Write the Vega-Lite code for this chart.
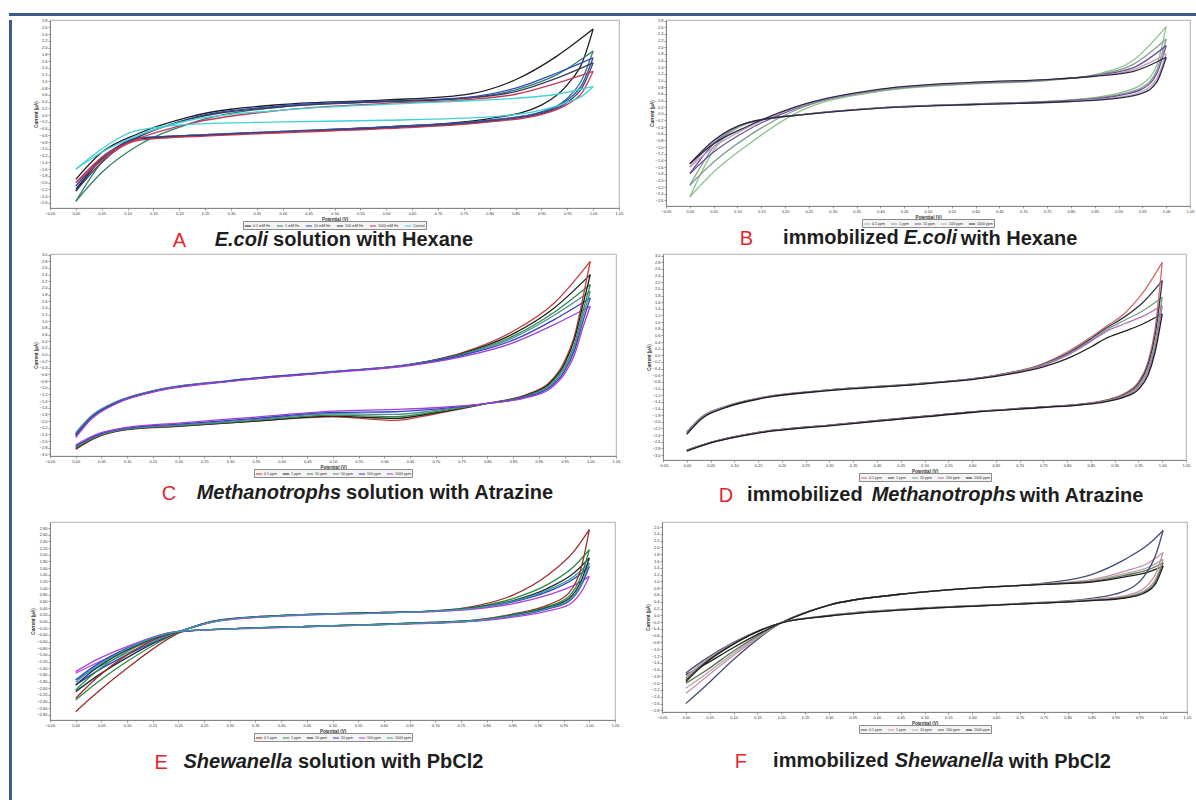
{
"$schema":"https://vega.github.io/schema/vega-lite/v6.json",
"padding":{"left":7,"top":11,"right":0,"bottom":0},
"background":"white",
"datasets":{"cv":[
{"p":"A","s":1,"b":"f","x":0,"y":-1.9},{"p":"A","s":1,"b":"f","x":0.05,"y":-1.1},{"p":"A","s":1,"b":"f","x":0.12,"y":-0.55},{"p":"A","s":1,"b":"f","x":0.22,"y":-0.05},{"p":"A","s":1,"b":"f","x":0.4,"y":0.32},{"p":"A","s":1,"b":"f","x":0.6,"y":0.45},{"p":"A","s":1,"b":"f","x":0.75,"y":0.6},{"p":"A","s":1,"b":"f","x":0.85,"y":1.05},{"p":"A","s":1,"b":"f","x":0.93,"y":1.75},{"p":"A","s":1,"b":"f","x":1,"y":2.55},
{"p":"A","s":1,"b":"r","x":1,"y":2.55},{"p":"A","s":1,"b":"r","x":0.98,"y":1.6},{"p":"A","s":1,"b":"r","x":0.95,"y":0.9},{"p":"A","s":1,"b":"r","x":0.9,"y":0.3},{"p":"A","s":1,"b":"r","x":0.8,"y":-0.1},{"p":"A","s":1,"b":"r","x":0.6,"y":-0.35},{"p":"A","s":1,"b":"r","x":0.4,"y":-0.5},{"p":"A","s":1,"b":"r","x":0.25,"y":-0.6},{"p":"A","s":1,"b":"r","x":0.12,"y":-0.7},{"p":"A","s":1,"b":"r","x":0.05,"y":-1.3},{"p":"A","s":1,"b":"r","x":0,"y":-2.2},
{"p":"A","s":2,"b":"f","x":0,"y":-2.55},{"p":"A","s":2,"b":"f","x":0.05,"y":-1.7},{"p":"A","s":2,"b":"f","x":0.12,"y":-0.9},{"p":"A","s":2,"b":"f","x":0.22,"y":-0.25},{"p":"A","s":2,"b":"f","x":0.4,"y":0.25},{"p":"A","s":2,"b":"f","x":0.6,"y":0.4},{"p":"A","s":2,"b":"f","x":0.75,"y":0.5},{"p":"A","s":2,"b":"f","x":0.85,"y":0.75},{"p":"A","s":2,"b":"f","x":0.93,"y":1.2},{"p":"A","s":2,"b":"f","x":1,"y":1.9},
{"p":"A","s":2,"b":"r","x":1,"y":1.9},{"p":"A","s":2,"b":"r","x":0.98,"y":1.1},{"p":"A","s":2,"b":"r","x":0.95,"y":0.5},{"p":"A","s":2,"b":"r","x":0.9,"y":0.1},{"p":"A","s":2,"b":"r","x":0.8,"y":-0.15},{"p":"A","s":2,"b":"r","x":0.6,"y":-0.35},{"p":"A","s":2,"b":"r","x":0.4,"y":-0.48},{"p":"A","s":2,"b":"r","x":0.25,"y":-0.58},{"p":"A","s":2,"b":"r","x":0.12,"y":-0.68},{"p":"A","s":2,"b":"r","x":0.05,"y":-1.4},{"p":"A","s":2,"b":"r","x":0,"y":-2.55},
{"p":"A","s":3,"b":"f","x":0,"y":-2.1},{"p":"A","s":3,"b":"f","x":0.05,"y":-1.25},{"p":"A","s":3,"b":"f","x":0.12,"y":-0.65},{"p":"A","s":3,"b":"f","x":0.22,"y":-0.1},{"p":"A","s":3,"b":"f","x":0.4,"y":0.28},{"p":"A","s":3,"b":"f","x":0.6,"y":0.42},{"p":"A","s":3,"b":"f","x":0.75,"y":0.52},{"p":"A","s":3,"b":"f","x":0.85,"y":0.8},{"p":"A","s":3,"b":"f","x":0.93,"y":1.25},{"p":"A","s":3,"b":"f","x":1,"y":1.7},
{"p":"A","s":3,"b":"r","x":1,"y":1.7},{"p":"A","s":3,"b":"r","x":0.98,"y":0.95},{"p":"A","s":3,"b":"r","x":0.95,"y":0.45},{"p":"A","s":3,"b":"r","x":0.9,"y":0.08},{"p":"A","s":3,"b":"r","x":0.8,"y":-0.15},{"p":"A","s":3,"b":"r","x":0.6,"y":-0.35},{"p":"A","s":3,"b":"r","x":0.4,"y":-0.48},{"p":"A","s":3,"b":"r","x":0.25,"y":-0.58},{"p":"A","s":3,"b":"r","x":0.12,"y":-0.68},{"p":"A","s":3,"b":"r","x":0.05,"y":-1.3},{"p":"A","s":3,"b":"r","x":0,"y":-2.1},
{"p":"A","s":4,"b":"f","x":0,"y":-2.25},{"p":"A","s":4,"b":"f","x":0.05,"y":-1.3},{"p":"A","s":4,"b":"f","x":0.12,"y":-0.65},{"p":"A","s":4,"b":"f","x":0.22,"y":-0.12},{"p":"A","s":4,"b":"f","x":0.4,"y":0.25},{"p":"A","s":4,"b":"f","x":0.6,"y":0.4},{"p":"A","s":4,"b":"f","x":0.75,"y":0.5},{"p":"A","s":4,"b":"f","x":0.85,"y":0.7},{"p":"A","s":4,"b":"f","x":0.93,"y":1.1},{"p":"A","s":4,"b":"f","x":1,"y":1.55},
{"p":"A","s":4,"b":"r","x":1,"y":1.55},{"p":"A","s":4,"b":"r","x":0.98,"y":0.85},{"p":"A","s":4,"b":"r","x":0.95,"y":0.38},{"p":"A","s":4,"b":"r","x":0.9,"y":0.05},{"p":"A","s":4,"b":"r","x":0.8,"y":-0.18},{"p":"A","s":4,"b":"r","x":0.6,"y":-0.38},{"p":"A","s":4,"b":"r","x":0.4,"y":-0.5},{"p":"A","s":4,"b":"r","x":0.25,"y":-0.6},{"p":"A","s":4,"b":"r","x":0.12,"y":-0.7},{"p":"A","s":4,"b":"r","x":0.05,"y":-1.4},{"p":"A","s":4,"b":"r","x":0,"y":-2.25},
{"p":"A","s":5,"b":"f","x":0,"y":-2.0},{"p":"A","s":5,"b":"f","x":0.05,"y":-1.25},{"p":"A","s":5,"b":"f","x":0.12,"y":-0.7},{"p":"A","s":5,"b":"f","x":0.22,"y":-0.25},{"p":"A","s":5,"b":"f","x":0.4,"y":0.15},{"p":"A","s":5,"b":"f","x":0.6,"y":0.35},{"p":"A","s":5,"b":"f","x":0.75,"y":0.45},{"p":"A","s":5,"b":"f","x":0.85,"y":0.62},{"p":"A","s":5,"b":"f","x":0.93,"y":0.95},{"p":"A","s":5,"b":"f","x":1,"y":1.3},
{"p":"A","s":5,"b":"r","x":1,"y":1.3},{"p":"A","s":5,"b":"r","x":0.98,"y":0.7},{"p":"A","s":5,"b":"r","x":0.95,"y":0.32},{"p":"A","s":5,"b":"r","x":0.9,"y":0.02},{"p":"A","s":5,"b":"r","x":0.8,"y":-0.2},{"p":"A","s":5,"b":"r","x":0.6,"y":-0.4},{"p":"A","s":5,"b":"r","x":0.4,"y":-0.52},{"p":"A","s":5,"b":"r","x":0.25,"y":-0.62},{"p":"A","s":5,"b":"r","x":0.12,"y":-0.75},{"p":"A","s":5,"b":"r","x":0.05,"y":-1.35},{"p":"A","s":5,"b":"r","x":0,"y":-2.0},
{"p":"A","s":6,"b":"f","x":0,"y":-1.6},{"p":"A","s":6,"b":"f","x":0.05,"y":-1.1},{"p":"A","s":6,"b":"f","x":0.12,"y":-0.6},{"p":"A","s":6,"b":"f","x":0.22,"y":-0.15},{"p":"A","s":6,"b":"f","x":0.4,"y":0.15},{"p":"A","s":6,"b":"f","x":0.6,"y":0.32},{"p":"A","s":6,"b":"f","x":0.75,"y":0.42},{"p":"A","s":6,"b":"f","x":0.85,"y":0.5},{"p":"A","s":6,"b":"f","x":0.93,"y":0.62},{"p":"A","s":6,"b":"f","x":1,"y":0.85},
{"p":"A","s":6,"b":"r","x":1,"y":0.85},{"p":"A","s":6,"b":"r","x":0.98,"y":0.58},{"p":"A","s":6,"b":"r","x":0.95,"y":0.38},{"p":"A","s":6,"b":"r","x":0.9,"y":0.15},{"p":"A","s":6,"b":"r","x":0.8,"y":-0.05},{"p":"A","s":6,"b":"r","x":0.6,"y":-0.15},{"p":"A","s":6,"b":"r","x":0.4,"y":-0.2},{"p":"A","s":6,"b":"r","x":0.25,"y":-0.25},{"p":"A","s":6,"b":"r","x":0.12,"y":-0.45},{"p":"A","s":6,"b":"r","x":0.05,"y":-1.0},{"p":"A","s":6,"b":"r","x":0,"y":-1.6},

{"p":"B","s":1,"b":"f","x":0,"y":-2.5},{"p":"B","s":1,"b":"f","x":0.05,"y":-1.75},{"p":"B","s":1,"b":"f","x":0.12,"y":-0.95},{"p":"B","s":1,"b":"f","x":0.22,"y":0},{"p":"B","s":1,"b":"f","x":0.4,"y":0.68},{"p":"B","s":1,"b":"f","x":0.6,"y":0.9},{"p":"B","s":1,"b":"f","x":0.75,"y":1.0},{"p":"B","s":1,"b":"f","x":0.85,"y":1.18},{"p":"B","s":1,"b":"f","x":0.93,"y":1.6},{"p":"B","s":1,"b":"f","x":1,"y":2.62},
{"p":"B","s":1,"b":"r","x":1,"y":2.62},{"p":"B","s":1,"b":"r","x":0.98,"y":1.45},{"p":"B","s":1,"b":"r","x":0.95,"y":0.9},{"p":"B","s":1,"b":"r","x":0.9,"y":0.62},{"p":"B","s":1,"b":"r","x":0.8,"y":0.42},{"p":"B","s":1,"b":"r","x":0.6,"y":0.3},{"p":"B","s":1,"b":"r","x":0.4,"y":0.18},{"p":"B","s":1,"b":"r","x":0.25,"y":0},{"p":"B","s":1,"b":"r","x":0.12,"y":-0.3},{"p":"B","s":1,"b":"r","x":0.05,"y":-1.1},{"p":"B","s":1,"b":"r","x":0,"y":-2.5},
{"p":"B","s":2,"b":"f","x":0,"y":-2.15},{"p":"B","s":2,"b":"f","x":0.05,"y":-1.45},{"p":"B","s":2,"b":"f","x":0.12,"y":-0.7},{"p":"B","s":2,"b":"f","x":0.22,"y":0.1},{"p":"B","s":2,"b":"f","x":0.4,"y":0.7},{"p":"B","s":2,"b":"f","x":0.6,"y":0.92},{"p":"B","s":2,"b":"f","x":0.75,"y":1.01},{"p":"B","s":2,"b":"f","x":0.85,"y":1.16},{"p":"B","s":2,"b":"f","x":0.93,"y":1.48},{"p":"B","s":2,"b":"f","x":1,"y":2.25},
{"p":"B","s":2,"b":"r","x":1,"y":2.25},{"p":"B","s":2,"b":"r","x":0.98,"y":1.3},{"p":"B","s":2,"b":"r","x":0.95,"y":0.8},{"p":"B","s":2,"b":"r","x":0.9,"y":0.58},{"p":"B","s":2,"b":"r","x":0.8,"y":0.41},{"p":"B","s":2,"b":"r","x":0.6,"y":0.3},{"p":"B","s":2,"b":"r","x":0.4,"y":0.18},{"p":"B","s":2,"b":"r","x":0.25,"y":0},{"p":"B","s":2,"b":"r","x":0.12,"y":-0.28},{"p":"B","s":2,"b":"r","x":0.05,"y":-1.0},{"p":"B","s":2,"b":"r","x":0,"y":-2.15},
{"p":"B","s":3,"b":"f","x":0,"y":-1.8},{"p":"B","s":3,"b":"f","x":0.05,"y":-1.15},{"p":"B","s":3,"b":"f","x":0.12,"y":-0.5},{"p":"B","s":3,"b":"f","x":0.22,"y":0.15},{"p":"B","s":3,"b":"f","x":0.4,"y":0.72},{"p":"B","s":3,"b":"f","x":0.6,"y":0.93},{"p":"B","s":3,"b":"f","x":0.75,"y":1.02},{"p":"B","s":3,"b":"f","x":0.85,"y":1.15},{"p":"B","s":3,"b":"f","x":0.93,"y":1.38},{"p":"B","s":3,"b":"f","x":1,"y":2.05},
{"p":"B","s":3,"b":"r","x":1,"y":2.05},{"p":"B","s":3,"b":"r","x":0.98,"y":1.2},{"p":"B","s":3,"b":"r","x":0.95,"y":0.75},{"p":"B","s":3,"b":"r","x":0.9,"y":0.55},{"p":"B","s":3,"b":"r","x":0.8,"y":0.4},{"p":"B","s":3,"b":"r","x":0.6,"y":0.29},{"p":"B","s":3,"b":"r","x":0.4,"y":0.18},{"p":"B","s":3,"b":"r","x":0.25,"y":0},{"p":"B","s":3,"b":"r","x":0.12,"y":-0.27},{"p":"B","s":3,"b":"r","x":0.05,"y":-0.9},{"p":"B","s":3,"b":"r","x":0,"y":-1.8},
{"p":"B","s":4,"b":"f","x":0,"y":-1.6},{"p":"B","s":4,"b":"f","x":0.05,"y":-1.0},{"p":"B","s":4,"b":"f","x":0.12,"y":-0.42},{"p":"B","s":4,"b":"f","x":0.22,"y":0.18},{"p":"B","s":4,"b":"f","x":0.4,"y":0.73},{"p":"B","s":4,"b":"f","x":0.6,"y":0.94},{"p":"B","s":4,"b":"f","x":0.75,"y":1.02},{"p":"B","s":4,"b":"f","x":0.85,"y":1.14},{"p":"B","s":4,"b":"f","x":0.93,"y":1.32},{"p":"B","s":4,"b":"f","x":1,"y":1.8},
{"p":"B","s":4,"b":"r","x":1,"y":1.8},{"p":"B","s":4,"b":"r","x":0.98,"y":1.05},{"p":"B","s":4,"b":"r","x":0.95,"y":0.68},{"p":"B","s":4,"b":"r","x":0.9,"y":0.5},{"p":"B","s":4,"b":"r","x":0.8,"y":0.38},{"p":"B","s":4,"b":"r","x":0.6,"y":0.28},{"p":"B","s":4,"b":"r","x":0.4,"y":0.17},{"p":"B","s":4,"b":"r","x":0.25,"y":-0.01},{"p":"B","s":4,"b":"r","x":0.12,"y":-0.27},{"p":"B","s":4,"b":"r","x":0.05,"y":-0.85},{"p":"B","s":4,"b":"r","x":0,"y":-1.6},
{"p":"B","s":5,"b":"f","x":0,"y":-1.5},{"p":"B","s":5,"b":"f","x":0.05,"y":-0.9},{"p":"B","s":5,"b":"f","x":0.12,"y":-0.38},{"p":"B","s":5,"b":"f","x":0.22,"y":0.2},{"p":"B","s":5,"b":"f","x":0.4,"y":0.74},{"p":"B","s":5,"b":"f","x":0.6,"y":0.95},{"p":"B","s":5,"b":"f","x":0.75,"y":1.03},{"p":"B","s":5,"b":"f","x":0.85,"y":1.13},{"p":"B","s":5,"b":"f","x":0.93,"y":1.27},{"p":"B","s":5,"b":"f","x":1,"y":1.7},
{"p":"B","s":5,"b":"r","x":1,"y":1.7},{"p":"B","s":5,"b":"r","x":0.98,"y":0.95},{"p":"B","s":5,"b":"r","x":0.95,"y":0.62},{"p":"B","s":5,"b":"r","x":0.9,"y":0.47},{"p":"B","s":5,"b":"r","x":0.8,"y":0.37},{"p":"B","s":5,"b":"r","x":0.6,"y":0.28},{"p":"B","s":5,"b":"r","x":0.4,"y":0.17},{"p":"B","s":5,"b":"r","x":0.25,"y":-0.01},{"p":"B","s":5,"b":"r","x":0.12,"y":-0.27},{"p":"B","s":5,"b":"r","x":0.05,"y":-0.8},{"p":"B","s":5,"b":"r","x":0,"y":-1.5},

{"p":"C","s":1,"b":"f","x":0,"y":-2.45},{"p":"C","s":1,"b":"f","x":0.03,"y":-1.9},{"p":"C","s":1,"b":"f","x":0.08,"y":-1.45},{"p":"C","s":1,"b":"f","x":0.15,"y":-1.12},{"p":"C","s":1,"b":"f","x":0.3,"y":-0.8},{"p":"C","s":1,"b":"f","x":0.5,"y":-0.53},{"p":"C","s":1,"b":"f","x":0.65,"y":-0.3},{"p":"C","s":1,"b":"f","x":0.75,"y":0.05},{"p":"C","s":1,"b":"f","x":0.85,"y":0.7},{"p":"C","s":1,"b":"f","x":0.93,"y":1.55},{"p":"C","s":1,"b":"f","x":1,"y":2.8},
{"p":"C","s":2,"b":"f","x":0,"y":-2.4},{"p":"C","s":2,"b":"f","x":0.03,"y":-1.88},{"p":"C","s":2,"b":"f","x":0.08,"y":-1.43},{"p":"C","s":2,"b":"f","x":0.15,"y":-1.1},{"p":"C","s":2,"b":"f","x":0.3,"y":-0.79},{"p":"C","s":2,"b":"f","x":0.5,"y":-0.52},{"p":"C","s":2,"b":"f","x":0.65,"y":-0.3},{"p":"C","s":2,"b":"f","x":0.75,"y":0.03},{"p":"C","s":2,"b":"f","x":0.85,"y":0.62},{"p":"C","s":2,"b":"f","x":0.93,"y":1.4},{"p":"C","s":2,"b":"f","x":1,"y":2.4},
{"p":"C","s":3,"b":"f","x":0,"y":-2.38},{"p":"C","s":3,"b":"f","x":0.03,"y":-1.87},{"p":"C","s":3,"b":"f","x":0.08,"y":-1.42},{"p":"C","s":3,"b":"f","x":0.15,"y":-1.09},{"p":"C","s":3,"b":"f","x":0.3,"y":-0.79},{"p":"C","s":3,"b":"f","x":0.5,"y":-0.52},{"p":"C","s":3,"b":"f","x":0.65,"y":-0.3},{"p":"C","s":3,"b":"f","x":0.75,"y":0.01},{"p":"C","s":3,"b":"f","x":0.85,"y":0.55},{"p":"C","s":3,"b":"f","x":0.93,"y":1.27},{"p":"C","s":3,"b":"f","x":1,"y":2.1},
{"p":"C","s":4,"b":"f","x":0,"y":-2.35},{"p":"C","s":4,"b":"f","x":0.03,"y":-1.85},{"p":"C","s":4,"b":"f","x":0.08,"y":-1.41},{"p":"C","s":4,"b":"f","x":0.15,"y":-1.09},{"p":"C","s":4,"b":"f","x":0.3,"y":-0.78},{"p":"C","s":4,"b":"f","x":0.5,"y":-0.51},{"p":"C","s":4,"b":"f","x":0.65,"y":-0.3},{"p":"C","s":4,"b":"f","x":0.75,"y":-0.01},{"p":"C","s":4,"b":"f","x":0.85,"y":0.5},{"p":"C","s":4,"b":"f","x":0.93,"y":1.18},{"p":"C","s":4,"b":"f","x":1,"y":1.9},
{"p":"C","s":5,"b":"f","x":0,"y":-2.42},{"p":"C","s":5,"b":"f","x":0.03,"y":-1.9},{"p":"C","s":5,"b":"f","x":0.08,"y":-1.44},{"p":"C","s":5,"b":"f","x":0.15,"y":-1.11},{"p":"C","s":5,"b":"f","x":0.3,"y":-0.79},{"p":"C","s":5,"b":"f","x":0.5,"y":-0.52},{"p":"C","s":5,"b":"f","x":0.65,"y":-0.31},{"p":"C","s":5,"b":"f","x":0.75,"y":-0.03},{"p":"C","s":5,"b":"f","x":0.85,"y":0.43},{"p":"C","s":5,"b":"f","x":0.93,"y":1.05},{"p":"C","s":5,"b":"f","x":1,"y":1.7},
{"p":"C","s":6,"b":"f","x":0,"y":-2.5},{"p":"C","s":6,"b":"f","x":0.03,"y":-1.95},{"p":"C","s":6,"b":"f","x":0.08,"y":-1.47},{"p":"C","s":6,"b":"f","x":0.15,"y":-1.13},{"p":"C","s":6,"b":"f","x":0.3,"y":-0.81},{"p":"C","s":6,"b":"f","x":0.5,"y":-0.54},{"p":"C","s":6,"b":"f","x":0.65,"y":-0.33},{"p":"C","s":6,"b":"f","x":0.75,"y":-0.07},{"p":"C","s":6,"b":"f","x":0.85,"y":0.35},{"p":"C","s":6,"b":"f","x":0.93,"y":0.9},{"p":"C","s":6,"b":"f","x":1,"y":1.45},
{"p":"C","s":1,"b":"r","x":1,"y":2.8},{"p":"C","s":1,"b":"r","x":0.985,"y":1.65},{"p":"C","s":1,"b":"r","x":0.97,"y":0.6},{"p":"C","s":1,"b":"r","x":0.95,"y":-0.2},{"p":"C","s":1,"b":"r","x":0.92,"y":-0.85},{"p":"C","s":1,"b":"r","x":0.88,"y":-1.18},{"p":"C","s":1,"b":"r","x":0.8,"y":-1.47},{"p":"C","s":1,"b":"r","x":0.7,"y":-1.78},{"p":"C","s":1,"b":"r","x":0.62,"y":-1.98},{"p":"C","s":1,"b":"r","x":0.5,"y":-1.87},{"p":"C","s":1,"b":"r","x":0.35,"y":-2.0},{"p":"C","s":1,"b":"r","x":0.2,"y":-2.16},{"p":"C","s":1,"b":"r","x":0.1,"y":-2.26},{"p":"C","s":1,"b":"r","x":0.04,"y":-2.5},{"p":"C","s":1,"b":"r","x":0,"y":-2.85},
{"p":"C","s":2,"b":"r","x":1,"y":2.4},{"p":"C","s":2,"b":"r","x":0.985,"y":1.45},{"p":"C","s":2,"b":"r","x":0.97,"y":0.5},{"p":"C","s":2,"b":"r","x":0.95,"y":-0.28},{"p":"C","s":2,"b":"r","x":0.92,"y":-0.88},{"p":"C","s":2,"b":"r","x":0.88,"y":-1.2},{"p":"C","s":2,"b":"r","x":0.8,"y":-1.47},{"p":"C","s":2,"b":"r","x":0.7,"y":-1.75},{"p":"C","s":2,"b":"r","x":0.62,"y":-1.92},{"p":"C","s":2,"b":"r","x":0.5,"y":-1.85},{"p":"C","s":2,"b":"r","x":0.35,"y":-2.0},{"p":"C","s":2,"b":"r","x":0.2,"y":-2.15},{"p":"C","s":2,"b":"r","x":0.1,"y":-2.25},{"p":"C","s":2,"b":"r","x":0.04,"y":-2.48},{"p":"C","s":2,"b":"r","x":0,"y":-2.82},
{"p":"C","s":3,"b":"r","x":1,"y":2.1},{"p":"C","s":3,"b":"r","x":0.985,"y":1.25},{"p":"C","s":3,"b":"r","x":0.97,"y":0.35},{"p":"C","s":3,"b":"r","x":0.95,"y":-0.35},{"p":"C","s":3,"b":"r","x":0.92,"y":-0.92},{"p":"C","s":3,"b":"r","x":0.88,"y":-1.22},{"p":"C","s":3,"b":"r","x":0.8,"y":-1.47},{"p":"C","s":3,"b":"r","x":0.7,"y":-1.72},{"p":"C","s":3,"b":"r","x":0.62,"y":-1.87},{"p":"C","s":3,"b":"r","x":0.5,"y":-1.82},{"p":"C","s":3,"b":"r","x":0.35,"y":-1.98},{"p":"C","s":3,"b":"r","x":0.2,"y":-2.14},{"p":"C","s":3,"b":"r","x":0.1,"y":-2.24},{"p":"C","s":3,"b":"r","x":0.04,"y":-2.47},{"p":"C","s":3,"b":"r","x":0,"y":-2.8},
{"p":"C","s":4,"b":"r","x":1,"y":1.9},{"p":"C","s":4,"b":"r","x":0.985,"y":1.1},{"p":"C","s":4,"b":"r","x":0.97,"y":0.25},{"p":"C","s":4,"b":"r","x":0.95,"y":-0.42},{"p":"C","s":4,"b":"r","x":0.92,"y":-0.96},{"p":"C","s":4,"b":"r","x":0.88,"y":-1.24},{"p":"C","s":4,"b":"r","x":0.8,"y":-1.47},{"p":"C","s":4,"b":"r","x":0.7,"y":-1.68},{"p":"C","s":4,"b":"r","x":0.62,"y":-1.8},{"p":"C","s":4,"b":"r","x":0.5,"y":-1.78},{"p":"C","s":4,"b":"r","x":0.35,"y":-1.95},{"p":"C","s":4,"b":"r","x":0.2,"y":-2.12},{"p":"C","s":4,"b":"r","x":0.1,"y":-2.23},{"p":"C","s":4,"b":"r","x":0.04,"y":-2.45},{"p":"C","s":4,"b":"r","x":0,"y":-2.78},
{"p":"C","s":5,"b":"r","x":1,"y":1.7},{"p":"C","s":5,"b":"r","x":0.985,"y":0.95},{"p":"C","s":5,"b":"r","x":0.97,"y":0.15},{"p":"C","s":5,"b":"r","x":0.95,"y":-0.5},{"p":"C","s":5,"b":"r","x":0.92,"y":-1.0},{"p":"C","s":5,"b":"r","x":0.88,"y":-1.26},{"p":"C","s":5,"b":"r","x":0.8,"y":-1.47},{"p":"C","s":5,"b":"r","x":0.7,"y":-1.64},{"p":"C","s":5,"b":"r","x":0.62,"y":-1.72},{"p":"C","s":5,"b":"r","x":0.5,"y":-1.74},{"p":"C","s":5,"b":"r","x":0.35,"y":-1.92},{"p":"C","s":5,"b":"r","x":0.2,"y":-2.09},{"p":"C","s":5,"b":"r","x":0.1,"y":-2.21},{"p":"C","s":5,"b":"r","x":0.04,"y":-2.43},{"p":"C","s":5,"b":"r","x":0,"y":-2.75},
{"p":"C","s":6,"b":"r","x":1,"y":1.45},{"p":"C","s":6,"b":"r","x":0.985,"y":0.78},{"p":"C","s":6,"b":"r","x":0.97,"y":0.02},{"p":"C","s":6,"b":"r","x":0.95,"y":-0.58},{"p":"C","s":6,"b":"r","x":0.92,"y":-1.05},{"p":"C","s":6,"b":"r","x":0.88,"y":-1.28},{"p":"C","s":6,"b":"r","x":0.8,"y":-1.47},{"p":"C","s":6,"b":"r","x":0.7,"y":-1.6},{"p":"C","s":6,"b":"r","x":0.62,"y":-1.65},{"p":"C","s":6,"b":"r","x":0.5,"y":-1.7},{"p":"C","s":6,"b":"r","x":0.35,"y":-1.88},{"p":"C","s":6,"b":"r","x":0.2,"y":-2.06},{"p":"C","s":6,"b":"r","x":0.1,"y":-2.19},{"p":"C","s":6,"b":"r","x":0.04,"y":-2.4},{"p":"C","s":6,"b":"r","x":0,"y":-2.72},

{"p":"D","s":1,"b":"f","x":0,"y":-2.35},{"p":"D","s":1,"b":"f","x":0.03,"y":-1.9},{"p":"D","s":1,"b":"f","x":0.08,"y":-1.57},{"p":"D","s":1,"b":"f","x":0.16,"y":-1.28},{"p":"D","s":1,"b":"f","x":0.3,"y":-1.05},{"p":"D","s":1,"b":"f","x":0.5,"y":-0.85},{"p":"D","s":1,"b":"f","x":0.65,"y":-0.6},{"p":"D","s":1,"b":"f","x":0.75,"y":-0.25},{"p":"D","s":1,"b":"f","x":0.8,"y":0.1},{"p":"D","s":1,"b":"f","x":0.85,"y":0.55},{"p":"D","s":1,"b":"f","x":0.88,"y":0.85},{"p":"D","s":1,"b":"f","x":0.92,"y":1.25},{"p":"D","s":1,"b":"f","x":0.96,"y":1.9},{"p":"D","s":1,"b":"f","x":1,"y":2.8},
{"p":"D","s":2,"b":"f","x":0,"y":-2.32},{"p":"D","s":2,"b":"f","x":0.03,"y":-1.88},{"p":"D","s":2,"b":"f","x":0.08,"y":-1.55},{"p":"D","s":2,"b":"f","x":0.16,"y":-1.27},{"p":"D","s":2,"b":"f","x":0.3,"y":-1.04},{"p":"D","s":2,"b":"f","x":0.5,"y":-0.84},{"p":"D","s":2,"b":"f","x":0.65,"y":-0.6},{"p":"D","s":2,"b":"f","x":0.75,"y":-0.27},{"p":"D","s":2,"b":"f","x":0.8,"y":0.05},{"p":"D","s":2,"b":"f","x":0.85,"y":0.5},{"p":"D","s":2,"b":"f","x":0.88,"y":0.8},{"p":"D","s":2,"b":"f","x":0.92,"y":1.15},{"p":"D","s":2,"b":"f","x":0.96,"y":1.6},{"p":"D","s":2,"b":"f","x":1,"y":2.25},
{"p":"D","s":3,"b":"f","x":0,"y":-2.3},{"p":"D","s":3,"b":"f","x":0.03,"y":-1.86},{"p":"D","s":3,"b":"f","x":0.08,"y":-1.54},{"p":"D","s":3,"b":"f","x":0.16,"y":-1.26},{"p":"D","s":3,"b":"f","x":0.3,"y":-1.04},{"p":"D","s":3,"b":"f","x":0.5,"y":-0.84},{"p":"D","s":3,"b":"f","x":0.65,"y":-0.61},{"p":"D","s":3,"b":"f","x":0.75,"y":-0.28},{"p":"D","s":3,"b":"f","x":0.8,"y":0.02},{"p":"D","s":3,"b":"f","x":0.85,"y":0.45},{"p":"D","s":3,"b":"f","x":0.88,"y":0.75},{"p":"D","s":3,"b":"f","x":0.92,"y":1.05},{"p":"D","s":3,"b":"f","x":0.96,"y":1.35},{"p":"D","s":3,"b":"f","x":1,"y":1.75},
{"p":"D","s":4,"b":"f","x":0,"y":-2.34},{"p":"D","s":4,"b":"f","x":0.03,"y":-1.89},{"p":"D","s":4,"b":"f","x":0.08,"y":-1.56},{"p":"D","s":4,"b":"f","x":0.16,"y":-1.27},{"p":"D","s":4,"b":"f","x":0.3,"y":-1.05},{"p":"D","s":4,"b":"f","x":0.5,"y":-0.85},{"p":"D","s":4,"b":"f","x":0.65,"y":-0.61},{"p":"D","s":4,"b":"f","x":0.75,"y":-0.3},{"p":"D","s":4,"b":"f","x":0.8,"y":0},{"p":"D","s":4,"b":"f","x":0.85,"y":0.42},{"p":"D","s":4,"b":"f","x":0.88,"y":0.7},{"p":"D","s":4,"b":"f","x":0.92,"y":0.95},{"p":"D","s":4,"b":"f","x":0.96,"y":1.18},{"p":"D","s":4,"b":"f","x":1,"y":1.5},
{"p":"D","s":5,"b":"f","x":0,"y":-2.38},{"p":"D","s":5,"b":"f","x":0.03,"y":-1.92},{"p":"D","s":5,"b":"f","x":0.08,"y":-1.58},{"p":"D","s":5,"b":"f","x":0.16,"y":-1.29},{"p":"D","s":5,"b":"f","x":0.3,"y":-1.06},{"p":"D","s":5,"b":"f","x":0.5,"y":-0.86},{"p":"D","s":5,"b":"f","x":0.65,"y":-0.63},{"p":"D","s":5,"b":"f","x":0.75,"y":-0.35},{"p":"D","s":5,"b":"f","x":0.8,"y":-0.1},{"p":"D","s":5,"b":"f","x":0.85,"y":0.25},{"p":"D","s":5,"b":"f","x":0.88,"y":0.5},{"p":"D","s":5,"b":"f","x":0.92,"y":0.72},{"p":"D","s":5,"b":"f","x":0.96,"y":0.95},{"p":"D","s":5,"b":"f","x":1,"y":1.25},
{"p":"D","s":1,"b":"r","x":1,"y":2.8},{"p":"D","s":1,"b":"r","x":0.985,"y":0.8},{"p":"D","s":1,"b":"r","x":0.97,"y":-0.2},{"p":"D","s":1,"b":"r","x":0.95,"y":-0.8},{"p":"D","s":1,"b":"r","x":0.92,"y":-1.15},{"p":"D","s":1,"b":"r","x":0.88,"y":-1.35},{"p":"D","s":1,"b":"r","x":0.83,"y":-1.47},{"p":"D","s":1,"b":"r","x":0.75,"y":-1.55},{"p":"D","s":1,"b":"r","x":0.6,"y":-1.7},{"p":"D","s":1,"b":"r","x":0.45,"y":-1.9},{"p":"D","s":1,"b":"r","x":0.3,"y":-2.1},{"p":"D","s":1,"b":"r","x":0.15,"y":-2.32},{"p":"D","s":1,"b":"r","x":0.06,"y":-2.58},{"p":"D","s":1,"b":"r","x":0,"y":-2.85},
{"p":"D","s":2,"b":"r","x":1,"y":2.25},{"p":"D","s":2,"b":"r","x":0.985,"y":0.6},{"p":"D","s":2,"b":"r","x":0.97,"y":-0.3},{"p":"D","s":2,"b":"r","x":0.95,"y":-0.85},{"p":"D","s":2,"b":"r","x":0.92,"y":-1.18},{"p":"D","s":2,"b":"r","x":0.88,"y":-1.36},{"p":"D","s":2,"b":"r","x":0.83,"y":-1.47},{"p":"D","s":2,"b":"r","x":0.75,"y":-1.55},{"p":"D","s":2,"b":"r","x":0.6,"y":-1.7},{"p":"D","s":2,"b":"r","x":0.45,"y":-1.9},{"p":"D","s":2,"b":"r","x":0.3,"y":-2.1},{"p":"D","s":2,"b":"r","x":0.15,"y":-2.32},{"p":"D","s":2,"b":"r","x":0.06,"y":-2.58},{"p":"D","s":2,"b":"r","x":0,"y":-2.85},
{"p":"D","s":3,"b":"r","x":1,"y":1.75},{"p":"D","s":3,"b":"r","x":0.985,"y":0.4},{"p":"D","s":3,"b":"r","x":0.97,"y":-0.4},{"p":"D","s":3,"b":"r","x":0.95,"y":-0.9},{"p":"D","s":3,"b":"r","x":0.92,"y":-1.2},{"p":"D","s":3,"b":"r","x":0.88,"y":-1.37},{"p":"D","s":3,"b":"r","x":0.83,"y":-1.48},{"p":"D","s":3,"b":"r","x":0.75,"y":-1.56},{"p":"D","s":3,"b":"r","x":0.6,"y":-1.71},{"p":"D","s":3,"b":"r","x":0.45,"y":-1.91},{"p":"D","s":3,"b":"r","x":0.3,"y":-2.11},{"p":"D","s":3,"b":"r","x":0.15,"y":-2.33},{"p":"D","s":3,"b":"r","x":0.06,"y":-2.59},{"p":"D","s":3,"b":"r","x":0,"y":-2.86},
{"p":"D","s":4,"b":"r","x":1,"y":1.5},{"p":"D","s":4,"b":"r","x":0.985,"y":0.25},{"p":"D","s":4,"b":"r","x":0.97,"y":-0.5},{"p":"D","s":4,"b":"r","x":0.95,"y":-0.95},{"p":"D","s":4,"b":"r","x":0.92,"y":-1.23},{"p":"D","s":4,"b":"r","x":0.88,"y":-1.38},{"p":"D","s":4,"b":"r","x":0.83,"y":-1.48},{"p":"D","s":4,"b":"r","x":0.75,"y":-1.56},{"p":"D","s":4,"b":"r","x":0.6,"y":-1.71},{"p":"D","s":4,"b":"r","x":0.45,"y":-1.91},{"p":"D","s":4,"b":"r","x":0.3,"y":-2.11},{"p":"D","s":4,"b":"r","x":0.15,"y":-2.33},{"p":"D","s":4,"b":"r","x":0.06,"y":-2.6},{"p":"D","s":4,"b":"r","x":0,"y":-2.87},
{"p":"D","s":5,"b":"r","x":1,"y":1.25},{"p":"D","s":5,"b":"r","x":0.985,"y":0.1},{"p":"D","s":5,"b":"r","x":0.97,"y":-0.6},{"p":"D","s":5,"b":"r","x":0.95,"y":-1.02},{"p":"D","s":5,"b":"r","x":0.92,"y":-1.26},{"p":"D","s":5,"b":"r","x":0.88,"y":-1.4},{"p":"D","s":5,"b":"r","x":0.83,"y":-1.49},{"p":"D","s":5,"b":"r","x":0.75,"y":-1.57},{"p":"D","s":5,"b":"r","x":0.6,"y":-1.72},{"p":"D","s":5,"b":"r","x":0.45,"y":-1.92},{"p":"D","s":5,"b":"r","x":0.3,"y":-2.12},{"p":"D","s":5,"b":"r","x":0.15,"y":-2.34},{"p":"D","s":5,"b":"r","x":0.06,"y":-2.6},{"p":"D","s":5,"b":"r","x":0,"y":-2.88},

{"p":"E","s":1,"b":"f","x":0,"y":-2.7},{"p":"E","s":1,"b":"f","x":0.04,"y":-2.15},{"p":"E","s":1,"b":"f","x":0.1,"y":-1.4},{"p":"E","s":1,"b":"f","x":0.2,"y":-0.35},{"p":"E","s":1,"b":"f","x":0.28,"y":0.05},{"p":"E","s":1,"b":"f","x":0.4,"y":0.18},{"p":"E","s":1,"b":"f","x":0.6,"y":0.27},{"p":"E","s":1,"b":"f","x":0.7,"y":0.32},{"p":"E","s":1,"b":"f","x":0.78,"y":0.47},{"p":"E","s":1,"b":"f","x":0.85,"y":0.78},{"p":"E","s":1,"b":"f","x":0.92,"y":1.4},{"p":"E","s":1,"b":"f","x":0.97,"y":2.1},{"p":"E","s":1,"b":"f","x":1,"y":2.75},
{"p":"E","s":2,"b":"f","x":0,"y":-2.35},{"p":"E","s":2,"b":"f","x":0.04,"y":-1.85},{"p":"E","s":2,"b":"f","x":0.1,"y":-1.2},{"p":"E","s":2,"b":"f","x":0.2,"y":-0.33},{"p":"E","s":2,"b":"f","x":0.28,"y":0.04},{"p":"E","s":2,"b":"f","x":0.4,"y":0.18},{"p":"E","s":2,"b":"f","x":0.6,"y":0.27},{"p":"E","s":2,"b":"f","x":0.7,"y":0.32},{"p":"E","s":2,"b":"f","x":0.78,"y":0.44},{"p":"E","s":2,"b":"f","x":0.85,"y":0.68},{"p":"E","s":2,"b":"f","x":0.92,"y":1.12},{"p":"E","s":2,"b":"f","x":0.97,"y":1.65},{"p":"E","s":2,"b":"f","x":1,"y":2.15},
{"p":"E","s":3,"b":"f","x":0,"y":-2.1},{"p":"E","s":3,"b":"f","x":0.04,"y":-1.65},{"p":"E","s":3,"b":"f","x":0.1,"y":-1.08},{"p":"E","s":3,"b":"f","x":0.2,"y":-0.32},{"p":"E","s":3,"b":"f","x":0.28,"y":0.03},{"p":"E","s":3,"b":"f","x":0.4,"y":0.17},{"p":"E","s":3,"b":"f","x":0.6,"y":0.27},{"p":"E","s":3,"b":"f","x":0.7,"y":0.31},{"p":"E","s":3,"b":"f","x":0.78,"y":0.42},{"p":"E","s":3,"b":"f","x":0.85,"y":0.62},{"p":"E","s":3,"b":"f","x":0.92,"y":1.0},{"p":"E","s":3,"b":"f","x":0.97,"y":1.45},{"p":"E","s":3,"b":"f","x":1,"y":1.9},
{"p":"E","s":4,"b":"f","x":0,"y":-1.9},{"p":"E","s":4,"b":"f","x":0.04,"y":-1.5},{"p":"E","s":4,"b":"f","x":0.1,"y":-1.0},{"p":"E","s":4,"b":"f","x":0.2,"y":-0.31},{"p":"E","s":4,"b":"f","x":0.28,"y":0.03},{"p":"E","s":4,"b":"f","x":0.4,"y":0.17},{"p":"E","s":4,"b":"f","x":0.6,"y":0.26},{"p":"E","s":4,"b":"f","x":0.7,"y":0.31},{"p":"E","s":4,"b":"f","x":0.78,"y":0.4},{"p":"E","s":4,"b":"f","x":0.85,"y":0.58},{"p":"E","s":4,"b":"f","x":0.92,"y":0.9},{"p":"E","s":4,"b":"f","x":0.97,"y":1.28},{"p":"E","s":4,"b":"f","x":1,"y":1.65},
{"p":"E","s":5,"b":"f","x":0,"y":-1.55},{"p":"E","s":5,"b":"f","x":0.04,"y":-1.25},{"p":"E","s":5,"b":"f","x":0.1,"y":-0.85},{"p":"E","s":5,"b":"f","x":0.2,"y":-0.3},{"p":"E","s":5,"b":"f","x":0.28,"y":0.02},{"p":"E","s":5,"b":"f","x":0.4,"y":0.16},{"p":"E","s":5,"b":"f","x":0.6,"y":0.26},{"p":"E","s":5,"b":"f","x":0.7,"y":0.3},{"p":"E","s":5,"b":"f","x":0.78,"y":0.38},{"p":"E","s":5,"b":"f","x":0.85,"y":0.53},{"p":"E","s":5,"b":"f","x":0.92,"y":0.8},{"p":"E","s":5,"b":"f","x":0.97,"y":1.08},{"p":"E","s":5,"b":"f","x":1,"y":1.35},
{"p":"E","s":6,"b":"f","x":0,"y":-1.75},{"p":"E","s":6,"b":"f","x":0.04,"y":-1.4},{"p":"E","s":6,"b":"f","x":0.1,"y":-0.95},{"p":"E","s":6,"b":"f","x":0.2,"y":-0.31},{"p":"E","s":6,"b":"f","x":0.28,"y":0.03},{"p":"E","s":6,"b":"f","x":0.4,"y":0.17},{"p":"E","s":6,"b":"f","x":0.6,"y":0.26},{"p":"E","s":6,"b":"f","x":0.7,"y":0.31},{"p":"E","s":6,"b":"f","x":0.78,"y":0.41},{"p":"E","s":6,"b":"f","x":0.85,"y":0.6},{"p":"E","s":6,"b":"f","x":0.92,"y":0.95},{"p":"E","s":6,"b":"f","x":0.97,"y":1.35},{"p":"E","s":6,"b":"f","x":1,"y":1.75},
{"p":"E","s":1,"b":"r","x":1,"y":2.75},{"p":"E","s":1,"b":"r","x":0.985,"y":1.65},{"p":"E","s":1,"b":"r","x":0.96,"y":0.85},{"p":"E","s":1,"b":"r","x":0.92,"y":0.5},{"p":"E","s":1,"b":"r","x":0.85,"y":0.22},{"p":"E","s":1,"b":"r","x":0.78,"y":0.05},{"p":"E","s":1,"b":"r","x":0.65,"y":-0.05},{"p":"E","s":1,"b":"r","x":0.45,"y":-0.15},{"p":"E","s":1,"b":"r","x":0.3,"y":-0.22},{"p":"E","s":1,"b":"r","x":0.2,"y":-0.32},{"p":"E","s":1,"b":"r","x":0.1,"y":-1.0},{"p":"E","s":1,"b":"r","x":0.04,"y":-1.7},{"p":"E","s":1,"b":"r","x":0,"y":-2.3},
{"p":"E","s":2,"b":"r","x":1,"y":2.15},{"p":"E","s":2,"b":"r","x":0.985,"y":1.4},{"p":"E","s":2,"b":"r","x":0.96,"y":0.75},{"p":"E","s":2,"b":"r","x":0.92,"y":0.45},{"p":"E","s":2,"b":"r","x":0.85,"y":0.2},{"p":"E","s":2,"b":"r","x":0.78,"y":0.04},{"p":"E","s":2,"b":"r","x":0.65,"y":-0.05},{"p":"E","s":2,"b":"r","x":0.45,"y":-0.15},{"p":"E","s":2,"b":"r","x":0.3,"y":-0.22},{"p":"E","s":2,"b":"r","x":0.2,"y":-0.31},{"p":"E","s":2,"b":"r","x":0.1,"y":-0.9},{"p":"E","s":2,"b":"r","x":0.04,"y":-1.5},{"p":"E","s":2,"b":"r","x":0,"y":-2.05},
{"p":"E","s":3,"b":"r","x":1,"y":1.9},{"p":"E","s":3,"b":"r","x":0.985,"y":1.25},{"p":"E","s":3,"b":"r","x":0.96,"y":0.68},{"p":"E","s":3,"b":"r","x":0.92,"y":0.42},{"p":"E","s":3,"b":"r","x":0.85,"y":0.18},{"p":"E","s":3,"b":"r","x":0.78,"y":0.03},{"p":"E","s":3,"b":"r","x":0.65,"y":-0.06},{"p":"E","s":3,"b":"r","x":0.45,"y":-0.15},{"p":"E","s":3,"b":"r","x":0.3,"y":-0.22},{"p":"E","s":3,"b":"r","x":0.2,"y":-0.31},{"p":"E","s":3,"b":"r","x":0.1,"y":-0.85},{"p":"E","s":3,"b":"r","x":0.04,"y":-1.4},{"p":"E","s":3,"b":"r","x":0,"y":-1.9},
{"p":"E","s":4,"b":"r","x":1,"y":1.65},{"p":"E","s":4,"b":"r","x":0.985,"y":1.1},{"p":"E","s":4,"b":"r","x":0.96,"y":0.6},{"p":"E","s":4,"b":"r","x":0.92,"y":0.38},{"p":"E","s":4,"b":"r","x":0.85,"y":0.16},{"p":"E","s":4,"b":"r","x":0.78,"y":0.02},{"p":"E","s":4,"b":"r","x":0.65,"y":-0.06},{"p":"E","s":4,"b":"r","x":0.45,"y":-0.15},{"p":"E","s":4,"b":"r","x":0.3,"y":-0.22},{"p":"E","s":4,"b":"r","x":0.2,"y":-0.3},{"p":"E","s":4,"b":"r","x":0.1,"y":-0.8},{"p":"E","s":4,"b":"r","x":0.04,"y":-1.3},{"p":"E","s":4,"b":"r","x":0,"y":-1.75},
{"p":"E","s":5,"b":"r","x":1,"y":1.35},{"p":"E","s":5,"b":"r","x":0.985,"y":0.9},{"p":"E","s":5,"b":"r","x":0.96,"y":0.5},{"p":"E","s":5,"b":"r","x":0.92,"y":0.32},{"p":"E","s":5,"b":"r","x":0.85,"y":0.13},{"p":"E","s":5,"b":"r","x":0.78,"y":0.01},{"p":"E","s":5,"b":"r","x":0.65,"y":-0.07},{"p":"E","s":5,"b":"r","x":0.45,"y":-0.16},{"p":"E","s":5,"b":"r","x":0.3,"y":-0.23},{"p":"E","s":5,"b":"r","x":0.2,"y":-0.3},{"p":"E","s":5,"b":"r","x":0.1,"y":-0.75},{"p":"E","s":5,"b":"r","x":0.04,"y":-1.15},{"p":"E","s":5,"b":"r","x":0,"y":-1.5},
{"p":"E","s":6,"b":"r","x":1,"y":1.75},{"p":"E","s":6,"b":"r","x":0.985,"y":1.15},{"p":"E","s":6,"b":"r","x":0.96,"y":0.63},{"p":"E","s":6,"b":"r","x":0.92,"y":0.4},{"p":"E","s":6,"b":"r","x":0.85,"y":0.17},{"p":"E","s":6,"b":"r","x":0.78,"y":0.03},{"p":"E","s":6,"b":"r","x":0.65,"y":-0.06},{"p":"E","s":6,"b":"r","x":0.45,"y":-0.15},{"p":"E","s":6,"b":"r","x":0.3,"y":-0.22},{"p":"E","s":6,"b":"r","x":0.2,"y":-0.3},{"p":"E","s":6,"b":"r","x":0.1,"y":-0.82},{"p":"E","s":6,"b":"r","x":0.04,"y":-1.35},{"p":"E","s":6,"b":"r","x":0,"y":-1.82},

{"p":"F","s":1,"b":"f","x":0,"y":-2.6},{"p":"F","s":1,"b":"f","x":0.04,"y":-2.1},{"p":"F","s":1,"b":"f","x":0.1,"y":-1.3},{"p":"F","s":1,"b":"f","x":0.2,"y":-0.22},{"p":"F","s":1,"b":"f","x":0.3,"y":0.3},{"p":"F","s":1,"b":"f","x":0.45,"y":0.62},{"p":"F","s":1,"b":"f","x":0.6,"y":0.8},{"p":"F","s":1,"b":"f","x":0.75,"y":0.95},{"p":"F","s":1,"b":"f","x":0.85,"y":1.2},{"p":"F","s":1,"b":"f","x":0.92,"y":1.65},{"p":"F","s":1,"b":"f","x":0.97,"y":2.1},{"p":"F","s":1,"b":"f","x":1,"y":2.5},
{"p":"F","s":2,"b":"f","x":0,"y":-2.3},{"p":"F","s":2,"b":"f","x":0.04,"y":-1.85},{"p":"F","s":2,"b":"f","x":0.1,"y":-1.18},{"p":"F","s":2,"b":"f","x":0.2,"y":-0.22},{"p":"F","s":2,"b":"f","x":0.3,"y":0.3},{"p":"F","s":2,"b":"f","x":0.45,"y":0.62},{"p":"F","s":2,"b":"f","x":0.6,"y":0.8},{"p":"F","s":2,"b":"f","x":0.75,"y":0.93},{"p":"F","s":2,"b":"f","x":0.85,"y":1.05},{"p":"F","s":2,"b":"f","x":0.92,"y":1.3},{"p":"F","s":2,"b":"f","x":0.97,"y":1.55},{"p":"F","s":2,"b":"f","x":1,"y":1.85},
{"p":"F","s":3,"b":"f","x":0,"y":-2.15},{"p":"F","s":3,"b":"f","x":0.04,"y":-1.75},{"p":"F","s":3,"b":"f","x":0.1,"y":-1.12},{"p":"F","s":3,"b":"f","x":0.2,"y":-0.22},{"p":"F","s":3,"b":"f","x":0.3,"y":0.3},{"p":"F","s":3,"b":"f","x":0.45,"y":0.62},{"p":"F","s":3,"b":"f","x":0.6,"y":0.8},{"p":"F","s":3,"b":"f","x":0.75,"y":0.92},{"p":"F","s":3,"b":"f","x":0.85,"y":1.02},{"p":"F","s":3,"b":"f","x":0.92,"y":1.23},{"p":"F","s":3,"b":"f","x":0.97,"y":1.42},{"p":"F","s":3,"b":"f","x":1,"y":1.65},
{"p":"F","s":4,"b":"f","x":0,"y":-2.0},{"p":"F","s":4,"b":"f","x":0.04,"y":-1.65},{"p":"F","s":4,"b":"f","x":0.1,"y":-1.05},{"p":"F","s":4,"b":"f","x":0.2,"y":-0.22},{"p":"F","s":4,"b":"f","x":0.3,"y":0.3},{"p":"F","s":4,"b":"f","x":0.45,"y":0.62},{"p":"F","s":4,"b":"f","x":0.6,"y":0.8},{"p":"F","s":4,"b":"f","x":0.75,"y":0.92},{"p":"F","s":4,"b":"f","x":0.85,"y":1.0},{"p":"F","s":4,"b":"f","x":0.92,"y":1.18},{"p":"F","s":4,"b":"f","x":0.97,"y":1.35},{"p":"F","s":4,"b":"f","x":1,"y":1.55},
{"p":"F","s":5,"b":"f","x":0,"y":-1.75},{"p":"F","s":5,"b":"f","x":0.04,"y":-1.45},{"p":"F","s":5,"b":"f","x":0.1,"y":-0.95},{"p":"F","s":5,"b":"f","x":0.2,"y":-0.22},{"p":"F","s":5,"b":"f","x":0.3,"y":0.3},{"p":"F","s":5,"b":"f","x":0.45,"y":0.62},{"p":"F","s":5,"b":"f","x":0.6,"y":0.8},{"p":"F","s":5,"b":"f","x":0.75,"y":0.91},{"p":"F","s":5,"b":"f","x":0.85,"y":0.98},{"p":"F","s":5,"b":"f","x":0.92,"y":1.13},{"p":"F","s":5,"b":"f","x":0.97,"y":1.28},{"p":"F","s":5,"b":"f","x":1,"y":1.45},
{"p":"F","s":1,"b":"r","x":1,"y":2.5},{"p":"F","s":1,"b":"r","x":0.985,"y":1.8},{"p":"F","s":1,"b":"r","x":0.96,"y":1.15},{"p":"F","s":1,"b":"r","x":0.92,"y":0.72},{"p":"F","s":1,"b":"r","x":0.85,"y":0.5},{"p":"F","s":1,"b":"r","x":0.7,"y":0.35},{"p":"F","s":1,"b":"r","x":0.5,"y":0.22},{"p":"F","s":1,"b":"r","x":0.3,"y":0},{"p":"F","s":1,"b":"r","x":0.2,"y":-0.22},{"p":"F","s":1,"b":"r","x":0.1,"y":-0.8},{"p":"F","s":1,"b":"r","x":0.04,"y":-1.3},{"p":"F","s":1,"b":"r","x":0,"y":-1.7},
{"p":"F","s":2,"b":"r","x":1,"y":1.85},{"p":"F","s":2,"b":"r","x":0.985,"y":1.25},{"p":"F","s":2,"b":"r","x":0.96,"y":0.8},{"p":"F","s":2,"b":"r","x":0.92,"y":0.58},{"p":"F","s":2,"b":"r","x":0.85,"y":0.47},{"p":"F","s":2,"b":"r","x":0.7,"y":0.34},{"p":"F","s":2,"b":"r","x":0.5,"y":0.21},{"p":"F","s":2,"b":"r","x":0.3,"y":-0.01},{"p":"F","s":2,"b":"r","x":0.2,"y":-0.22},{"p":"F","s":2,"b":"r","x":0.1,"y":-0.82},{"p":"F","s":2,"b":"r","x":0.04,"y":-1.35},{"p":"F","s":2,"b":"r","x":0,"y":-1.8},
{"p":"F","s":3,"b":"r","x":1,"y":1.65},{"p":"F","s":3,"b":"r","x":0.985,"y":1.1},{"p":"F","s":3,"b":"r","x":0.96,"y":0.72},{"p":"F","s":3,"b":"r","x":0.92,"y":0.55},{"p":"F","s":3,"b":"r","x":0.85,"y":0.45},{"p":"F","s":3,"b":"r","x":0.7,"y":0.34},{"p":"F","s":3,"b":"r","x":0.5,"y":0.21},{"p":"F","s":3,"b":"r","x":0.3,"y":-0.01},{"p":"F","s":3,"b":"r","x":0.2,"y":-0.22},{"p":"F","s":3,"b":"r","x":0.1,"y":-0.83},{"p":"F","s":3,"b":"r","x":0.04,"y":-1.38},{"p":"F","s":3,"b":"r","x":0,"y":-1.85},
{"p":"F","s":4,"b":"r","x":1,"y":1.55},{"p":"F","s":4,"b":"r","x":0.985,"y":1.02},{"p":"F","s":4,"b":"r","x":0.96,"y":0.68},{"p":"F","s":4,"b":"r","x":0.92,"y":0.53},{"p":"F","s":4,"b":"r","x":0.85,"y":0.44},{"p":"F","s":4,"b":"r","x":0.7,"y":0.33},{"p":"F","s":4,"b":"r","x":0.5,"y":0.2},{"p":"F","s":4,"b":"r","x":0.3,"y":-0.02},{"p":"F","s":4,"b":"r","x":0.2,"y":-0.22},{"p":"F","s":4,"b":"r","x":0.1,"y":-0.84},{"p":"F","s":4,"b":"r","x":0.04,"y":-1.4},{"p":"F","s":4,"b":"r","x":0,"y":-1.9},
{"p":"F","s":5,"b":"r","x":1,"y":1.45},{"p":"F","s":5,"b":"r","x":0.985,"y":0.95},{"p":"F","s":5,"b":"r","x":0.96,"y":0.65},{"p":"F","s":5,"b":"r","x":0.92,"y":0.51},{"p":"F","s":5,"b":"r","x":0.85,"y":0.43},{"p":"F","s":5,"b":"r","x":0.7,"y":0.33},{"p":"F","s":5,"b":"r","x":0.5,"y":0.2},{"p":"F","s":5,"b":"r","x":0.3,"y":-0.02},{"p":"F","s":5,"b":"r","x":0.2,"y":-0.22},{"p":"F","s":5,"b":"r","x":0.1,"y":-0.85},{"p":"F","s":5,"b":"r","x":0.04,"y":-1.42},{"p":"F","s":5,"b":"r","x":0,"y":-1.95}
],
"bar":[{"k":1}]},
"spacing":0,
"resolve":{"scale":{"color":"independent"},"legend":{"color":"independent"}},
"vconcat":[
{"width":1189,"height":3,"data":{"name":"bar"},"mark":{"type":"point","opacity":0},"encoding":{},"view":{"fill":"#3b5b8b","stroke":null}},
{"hconcat":[
{"width":3,"height":786,"data":{"name":"bar"},"mark":{"type":"point","opacity":0},"encoding":{},"view":{"fill":"#3b5b8b","stroke":null}},
{"vconcat":[
{"hconcat":[
 {"vconcat":[{"vconcat":[
  {"width":569,"height":188,"data":{"name":"cv"},"transform":[{"filter":"datum.p == 'A'"}],
   "title":{"text":"solution with Hexane","dx":240,"offset":0},
   "mark":{"type":"line","interpolate":"monotone","strokeWidth":1.3},
   "encoding":{
    "x":{"field":"x","type":"quantitative","scale":{"domain":[-0.05,1.05],"nice":false,"zero":false},"axis":{"title":"Potential (V)","values":[-0.05,0,0.05,0.1,0.15,0.2,0.25,0.3,0.35,0.4,0.45,0.5,0.55,0.6,0.65,0.7,0.75,0.8,0.85,0.9,0.95,1,1.05],"format":".2f"}},
    "y":{"field":"y","type":"quantitative","scale":{"domain":[-2.75,2.82],"nice":false,"zero":false},"axis":{"title":"Current (µA)","tickCount":30,"format":".1f"}},
    "color":{"field":"s","type":"nominal","scale":{"domain":[1,2,3,4,5,6],"range":["#1e1e1e","#2f7f6a","#2f4fbf","#3c3c5c","#c33a5a","#3fd0d8"]},"legend":{"title":null,"labelExpr":"['0.1 mM Hx','1 mM Hx','10 mM Hx','100 mM Hx','1000 mM Hx','Control'][datum.value-1]"}},
    "detail":{"field":"b","type":"nominal"}}}
 ],"title":{"text":"E.coli","fontStyle":"italic","dx":182,"dy":-23.5},"resolve":{"scale":{"color":"independent"},"legend":{"color":"independent"}}}],
 "title":{"text":"A","color":"#e3262e","fontWeight":"normal","dx":140,"dy":-23.5},"resolve":{"scale":{"color":"independent"},"legend":{"color":"independent"}}},
 {"vconcat":[{"vconcat":[{"vconcat":[
  {"width":524,"height":186,"data":{"name":"cv"},"transform":[{"filter":"datum.p == 'B'"}],
   "title":{"text":"immobilized","dx":134,"offset":0},
   "mark":{"type":"line","interpolate":"monotone","strokeWidth":1.3},
   "encoding":{
    "x":{"field":"x","type":"quantitative","scale":{"domain":[-0.05,1.05],"nice":false,"zero":false},"axis":{"title":"Potential (V)","values":[-0.05,0,0.05,0.1,0.15,0.2,0.25,0.3,0.35,0.4,0.45,0.5,0.55,0.6,0.65,0.7,0.75,0.8,0.85,0.9,0.95,1,1.05],"format":".2f"}},
    "y":{"field":"y","type":"quantitative","scale":{"domain":[-2.77,2.82],"nice":false,"zero":false},"axis":{"title":"Current (µA)","tickCount":30,"format":".1f"}},
    "color":{"field":"s","type":"nominal","scale":{"domain":[1,2,3,4,5],"range":["#8cc48c","#7f9f8f","#6f4f9f","#c0a0b8","#2a2a40"]},"legend":{"title":null,"labelExpr":"['0.1 ppm','1 ppm','10 ppm','100 ppm','1000 ppm'][datum.value-1]"}},
    "detail":{"field":"b","type":"nominal"}}}
 ],"title":{"text":"E.coli","fontStyle":"italic","dx":255,"dy":-23.5},"resolve":{"scale":{"color":"independent"},"legend":{"color":"independent"}}}],
 "title":{"text":"with Hexane","dx":312,"dy":-23.5},"resolve":{"scale":{"color":"independent"},"legend":{"color":"independent"}}}],
 "title":{"text":"B","color":"#e3262e","fontWeight":"normal","dx":91,"dy":-23.5},"resolve":{"scale":{"color":"independent"},"legend":{"color":"independent"}}}
],"spacing":24,"resolve":{"scale":{"color":"independent"},"legend":{"color":"independent"}}},
{"vconcat":[
{"hconcat":[
 {"vconcat":[{"vconcat":[
  {"width":566,"height":202,"data":{"name":"cv"},"transform":[{"filter":"datum.p == 'C'"}],
   "title":{"text":"solution with Atrazine","dx":313,"offset":5},
   "mark":{"type":"line","interpolate":"monotone","strokeWidth":1.3},
   "encoding":{
    "x":{"field":"x","type":"quantitative","scale":{"domain":[-0.05,1.05],"nice":false,"zero":false},"axis":{"title":"Potential (V)","values":[-0.05,0,0.05,0.1,0.15,0.2,0.25,0.3,0.35,0.4,0.45,0.5,0.55,0.6,0.65,0.7,0.75,0.8,0.85,0.9,0.95,1,1.05],"format":".2f"}},
    "y":{"field":"y","type":"quantitative","scale":{"domain":[-3.05,3.02],"nice":false,"zero":false},"axis":{"title":"Current (µA)","tickCount":30,"format":".1f"}},
    "color":{"field":"s","type":"nominal","scale":{"domain":[1,2,3,4,5,6],"range":["#c0403a","#1e1e1e","#2e8a4a","#4f8f8f","#3040c8","#a040d0"]},"legend":{"title":null,"labelExpr":"['0.1 ppm','1 ppm','10 ppm','50 ppm','100 ppm','1000 ppm'][datum.value-1]"}},
    "detail":{"field":"b","type":"nominal"}}}
 ],"title":{"text":"Methanotrophs","fontStyle":"italic","dx":164,"dy":-23.5},"resolve":{"scale":{"color":"independent"},"legend":{"color":"independent"}}}],
 "title":{"text":"C","color":"#e3262e","fontWeight":"normal","dx":129,"dy":-23.5},"resolve":{"scale":{"color":"independent"},"legend":{"color":"independent"}}},
 {"vconcat":[{"vconcat":[{"vconcat":[
  {"width":523,"height":206,"data":{"name":"cv"},"transform":[{"filter":"datum.p == 'D'"}],
   "title":{"text":"immobilized","dx":101,"offset":3},
   "mark":{"type":"line","interpolate":"monotone","strokeWidth":1.3},
   "encoding":{
    "x":{"field":"x","type":"quantitative","scale":{"domain":[-0.05,1.05],"nice":false,"zero":false},"axis":{"title":"Potential (V)","values":[-0.05,0,0.05,0.1,0.15,0.2,0.25,0.3,0.35,0.4,0.45,0.5,0.55,0.6,0.65,0.7,0.75,0.8,0.85,0.9,0.95,1,1.05],"format":".2f"}},
    "y":{"field":"y","type":"quantitative","scale":{"domain":[-3.15,3.05],"nice":false,"zero":false},"axis":{"title":"Current (µA)","tickCount":30,"format":".1f"}},
    "color":{"field":"s","type":"nominal","scale":{"domain":[1,2,3,4,5],"range":["#d06a6a","#34344c","#6fa080","#b070b8","#1e1e1e"]},"legend":{"title":null,"labelExpr":"['0.1 ppm','1 ppm','10 ppm','100 ppm','1000 ppm'][datum.value-1]"}},
    "detail":{"field":"b","type":"nominal"}}}
 ],"title":{"text":"Methanotrophs","fontStyle":"italic","dx":226,"dy":-23.5},"resolve":{"scale":{"color":"independent"},"legend":{"color":"independent"}}}],
 "title":{"text":"with Atrazine","dx":374,"dy":-23.5},"resolve":{"scale":{"color":"independent"},"legend":{"color":"independent"}}}],
 "title":{"text":"D","color":"#e3262e","fontWeight":"normal","dx":73,"dy":-23.5},"resolve":{"scale":{"color":"independent"},"legend":{"color":"independent"}}}
],"spacing":24,"resolve":{"scale":{"color":"independent"},"legend":{"color":"independent"}}},
{"hconcat":[
 {"vconcat":[{"vconcat":[
  {"width":565,"height":198,"data":{"name":"cv"},"transform":[{"filter":"datum.p == 'E'"}],
   "title":{"text":"solution with PbCl2","dx":267,"offset":10},
   "mark":{"type":"line","interpolate":"monotone","strokeWidth":1.3},
   "encoding":{
    "x":{"field":"x","type":"quantitative","scale":{"domain":[-0.05,1.05],"nice":false,"zero":false},"axis":{"title":"Potential (V)","values":[-0.05,0,0.05,0.1,0.15,0.2,0.25,0.3,0.35,0.4,0.45,0.5,0.55,0.6,0.65,0.7,0.75,0.8,0.85,0.9,0.95,1,1.05],"format":".2f"}},
    "y":{"field":"y","type":"quantitative","scale":{"domain":[-2.95,2.98],"nice":false,"zero":false},"axis":{"title":"Current (µA)","tickCount":30,"format":".2f"}},
    "color":{"field":"s","type":"nominal","scale":{"domain":[1,2,3,4,5,6],"range":["#a02c2c","#2a8a40","#1e2a3a","#2a40c8","#b040e8","#3a9a9a"]},"legend":{"title":null,"labelExpr":"['0.1 ppm','1 ppm','10 ppm','50 ppm','100 ppm','1000 ppm'][datum.value-1]"}},
    "detail":{"field":"b","type":"nominal"}}}
 ],"title":{"text":"Shewanella","fontStyle":"italic","dx":153,"dy":-23.5},"resolve":{"scale":{"color":"independent"},"legend":{"color":"independent"}}}],
 "title":{"text":"E","color":"#e3262e","fontWeight":"normal","dx":124,"dy":-23.5},"resolve":{"scale":{"color":"independent"},"legend":{"color":"independent"}}},
 {"vconcat":[{"vconcat":[{"vconcat":[
  {"width":525,"height":190,"data":{"name":"cv"},"transform":[{"filter":"datum.p == 'F'"}],
   "title":{"text":"immobilized","dx":128,"offset":17},
   "mark":{"type":"line","interpolate":"monotone","strokeWidth":1.3},
   "encoding":{
    "x":{"field":"x","type":"quantitative","scale":{"domain":[-0.05,1.05],"nice":false,"zero":false},"axis":{"title":"Potential (V)","values":[-0.05,0,0.05,0.1,0.15,0.2,0.25,0.3,0.35,0.4,0.45,0.5,0.55,0.6,0.65,0.7,0.75,0.8,0.85,0.9,0.95,1,1.05],"format":".2f"}},
    "y":{"field":"y","type":"quantitative","scale":{"domain":[-2.85,2.75],"nice":false,"zero":false},"axis":{"title":"Current (µA)","tickCount":30,"format":".1f"}},
    "color":{"field":"s","type":"nominal","scale":{"domain":[1,2,3,4,5],"range":["#454c78","#c890a8","#a8a8a8","#5f6f48","#1e1e1e"]},"legend":{"title":null,"labelExpr":"['0.1 ppm','1 ppm','10 ppm','100 ppm','1000 ppm'][datum.value-1]"}},
    "detail":{"field":"b","type":"nominal"}}}
 ],"title":{"text":"Shewanella","fontStyle":"italic","dx":250,"dy":-23.5},"resolve":{"scale":{"color":"independent"},"legend":{"color":"independent"}}}],
 "title":{"text":"with PbCl2","dx":364,"dy":-23.5},"resolve":{"scale":{"color":"independent"},"legend":{"color":"independent"}}}],
 "title":{"text":"F","color":"#e3262e","fontWeight":"normal","dx":90,"dy":-23.5},"resolve":{"scale":{"color":"independent"},"legend":{"color":"independent"}}}
],"spacing":24,"resolve":{"scale":{"color":"independent"},"legend":{"color":"independent"}}}
],"spacing":14,"resolve":{"scale":{"color":"independent"},"legend":{"color":"independent"}}}
],"spacing":1,"resolve":{"scale":{"color":"independent"},"legend":{"color":"independent"}}}
],"spacing":16,"resolve":{"scale":{"color":"independent"},"legend":{"color":"independent"}}}
],
"config":{
 "font":"Liberation Sans",
 "view":{"stroke":"#9a9a9a","strokeWidth":0.8},
 "axis":{"labelFontSize":4,"labelColor":"#333333","labelPadding":1,"tickSize":2,"tickWidth":0.6,"tickColor":"#555555","domainColor":"#777777","domainWidth":0.8,"titleFontSize":4.5,"titleFontWeight":"bold","titleColor":"#333333","titlePadding":1,"grid":false,"labelOverlap":false,"labelFlush":false},
 "legend":{"orient":"bottom","direction":"horizontal","labelFontSize":3.6,"labelColor":"#333333","symbolType":"stroke","symbolSize":40,"symbolStrokeWidth":1,"strokeColor":"#8a8a8a","fillColor":"#f4f4f4","padding":1,"columnPadding":3,"offset":0,"labelOffset":1,"labelLimit":80,"layout":{"bottom":{"anchor":"middle"}}},
 "title":{"orient":"bottom","anchor":"start","frame":"bounds","offset":0,"fontSize":20,"fontWeight":"bold","color":"#1e1e1e","baseline":"top","font":"Liberation Sans"}
}
}
